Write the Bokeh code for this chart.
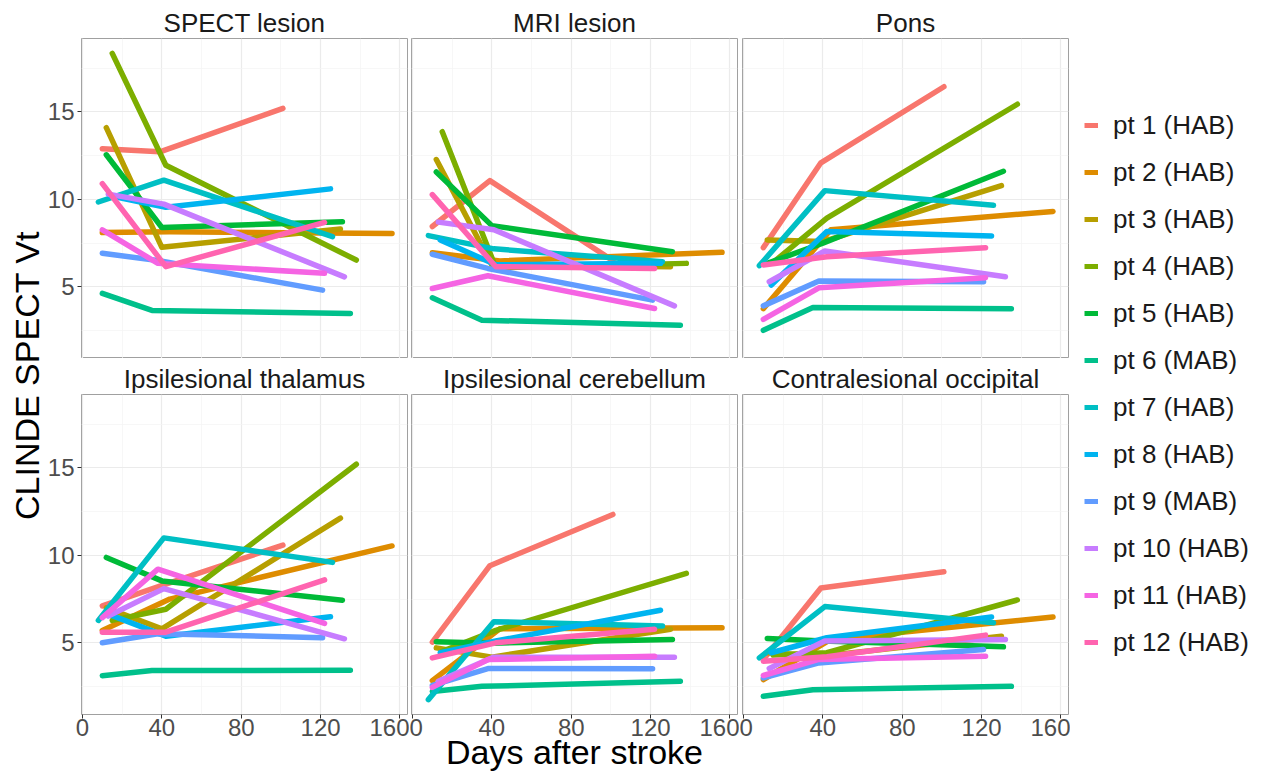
import math
from bokeh.plotting import figure
from bokeh.layouts import row, column
from bokeh.models import Range1d, FixedTicker, Label, Legend, LegendItem, ColumnDataSource
from bokeh.embed import file_html
from bokeh.resources import INLINE

# ---------------- data ----------------
patients = ["pt 1 (HAB)", "pt 2 (HAB)", "pt 3 (HAB)", "pt 4 (HAB)", "pt 5 (HAB)", "pt 6 (MAB)",
            "pt 7 (HAB)", "pt 8 (HAB)", "pt 9 (MAB)", "pt 10 (HAB)", "pt 11 (HAB)", "pt 12 (HAB)"]
colors = ["#F8766D", "#DE8C00", "#B79F00", "#7CAE00", "#00BA38", "#00C08B",
          "#00BFC4", "#00B4F0", "#619CFF", "#C77CFF", "#F564E3", "#FF64B0"]

# days after stroke of the three scans, per patient
days = [[10, 39, 101], [10, 44, 156], [12, 40, 130], [15, 42, 138], [12, 40, 131], [10, 35, 135],
        [8, 41, 126], [14, 42, 125], [10, 38, 121], [13, 41, 132], [10, 38, 122], [10, 42, 122]]

spect_lesion = [[12.9, 12.72, 15.2], [8.1, 8.15, 8.05], [14.1, 7.26, 8.31], [18.35, 11.95, 6.53],
                [12.55, 8.39, 8.72], [4.62, 3.65, 3.47], [9.85, 11.1, 7.87], [10.2, 9.55, 10.6],
                [6.92, 6.5, 4.81], [10.3, 9.73, 5.57], [8.26, 6.34, 5.77], [10.9, 6.15, 8.68]]
mri_lesion = [[8.45, 11.07, 6.5], [6.95, 6.48, 6.97], [12.28, 6.25, 6.15], [13.87, 6.09, 6.34],
              [11.57, 8.5, 7.01], [4.37, 3.09, 2.8], [7.93, 7.17, 6.44], [7.68, 6.26, 6.34],
              [6.86, 6.05, 4.24], [8.7, 8.26, 3.91], [4.9, 5.63, 3.76], [10.27, 6.15, 6.05]]
pons = [[7.24, 12.09, 16.44], [3.75, 8.26, 9.31], [7.68, 7.59, 10.79], [6.4, 8.93, 15.44],
        [6.34, 7.5, 11.61], [2.51, 3.81, 3.75], [6.21, 10.5, 9.66], [5.1, 8.16, 7.91],
        [3.91, 5.33, 5.29], [5.29, 7.05, 5.57], [3.14, 4.94, 5.52], [6.25, 6.72, 7.24]]
thalamus = [[7.11, 8.24, 10.59], [5.71, 7.5, 10.54], [7.0, 5.8, 12.13], [6.28, 6.92, 15.21],
            [9.88, 8.54, 7.43], [3.12, 3.41, 3.43], [6.28, 11.0, 9.6], [6.6, 5.38, 6.49],
            [5.0, 5.52, 5.29], [6.53, 8.1, 5.23], [6.44, 9.21, 6.11], [5.61, 5.61, 8.6]]
cerebellum = [[5.04, 9.41, 12.34], [2.84, 5.8, 5.86], [4.71, 4.18, 5.77], [4.52, 5.71, 8.97],
              [5.06, 4.98, 5.19], [2.22, 2.51, 2.8], [1.75, 6.21, 5.96], [4.43, 5.1, 6.86],
              [2.57, 3.53, 3.52], [2.8, 4.18, 4.18], [2.45, 4.04, 4.23], [4.14, 5.0, 5.77]]
occipital = [[4.05, 8.13, 9.06], [2.9, 5.19, 6.48], [4.43, 4.24, 5.38], [4.3, 4.43, 7.45],
             [5.25, 5.1, 4.77], [1.94, 2.32, 2.51], [4.14, 7.07, 6.15], [4.43, 5.29, 6.48],
             [2.99, 3.85, 4.62], [3.53, 5.1, 5.19], [3.13, 4.05, 4.23], [3.95, 4.2, 5.44]]

regions = ["SPECT lesion", "MRI lesion", "Pons",
           "Ipsilesional thalamus", "Ipsilesional cerebellum", "Contralesional occipital"]
region_values = [spect_lesion, mri_lesion, pons, thalamus, cerebellum, occipital]

x_major = [0, 40, 80, 120, 160]
x_minor = [20, 60, 100, 140]
y_major = [5, 10, 15]
y_minor = [2.5, 7.5, 12.5, 17.5]

x_title = "Days after stroke"
y_title = "CLINDE SPECT Vt"

# ---------------- style ----------------
FONT = "Liberation Sans"
XR = (-0.5, 163.8)
YR = (0.9, 19.2)
FW, FH = 326, 320
YLAB_W = 44


def make_panel(idx):
    r, c = divmod(idx, 3)
    left = [81 - YLAB_W, 2, 3][c]
    right = 2
    top = 38 if r == 0 else 36
    bottom = 0 if r == 0 else 64
    p = figure(width=left + FW + right, height=top + FH + bottom,
               x_range=Range1d(*XR), y_range=Range1d(*YR),
               output_backend="svg", toolbar_location=None,
               min_border_left=left, min_border_right=right,
               min_border_top=top, min_border_bottom=bottom,
               title=regions[idx])
    p.title.align = "center"
    p.title.text_font = FONT
    p.title.text_font_size = "26px"
    p.title.text_font_style = "normal"
    p.title.text_color = "#1A1A1A"
    p.title.standoff = 2
    p.title.offset = 0

    xt = FixedTicker(ticks=x_major, minor_ticks=x_minor)
    yt = FixedTicker(ticks=y_major, minor_ticks=y_minor)
    p.xaxis.ticker = xt
    p.yaxis.ticker = yt
    p.xgrid.ticker = xt
    p.ygrid.ticker = yt
    for g in (p.xgrid, p.ygrid):
        g.grid_line_color = "#EBEBEB"
        g.grid_line_width = 1.2
        g.minor_grid_line_color = "#F3F3F3"
        g.minor_grid_line_width = 0.7

    for ax in (p.xaxis, p.yaxis):
        ax.axis_line_color = None
        ax.major_tick_line_color = "#333333"
        ax.major_tick_out = 4
        ax.major_tick_in = 0
        ax.minor_tick_line_color = None
        ax.major_label_text_font = FONT
        ax.major_label_text_font_size = "24px"
        ax.major_label_text_color = "#4D4D4D"
    p.xaxis.major_label_standoff = 0
    p.yaxis.major_label_standoff = 3
    p.xaxis.major_label_overrides = {v: str(v) for v in x_major}
    p.yaxis.major_label_overrides = {v: str(v) for v in y_major}
    if r == 0:
        p.xaxis.visible = False
    if c != 0:
        p.yaxis.visible = False
    if idx == 4:
        # shared x-axis title, centred under the middle column
        p.xaxis.axis_label = x_title
        p.xaxis.axis_label_text_font = FONT
        p.xaxis.axis_label_text_font_size = "34px"
        p.xaxis.axis_label_text_font_style = "normal"
        p.xaxis.axis_label_text_color = "black"
        p.xaxis.axis_label_standoff = -6

    p.outline_line_color = "#A0A0A0"
    p.outline_line_width = 1
    p.background_fill_color = "white"
    p.border_fill_color = "white"

    vals = region_values[idx]
    for i in range(len(patients)):
        src = ColumnDataSource(dict(x=days[i], y=vals[i]))
        p.line("x", "y", source=src, line_color=colors[i], line_width=5.5,
               line_cap="round", line_join="round")
    return p


panels = [make_panel(i) for i in range(6)]

# y-axis title figure
ylab = figure(width=YLAB_W, height=778, x_range=Range1d(0, YLAB_W), y_range=Range1d(0, 778),
              output_backend="svg", toolbar_location=None,
              min_border_left=0, min_border_right=0, min_border_top=0, min_border_bottom=0)
ylab.axis.visible = False
ylab.grid.visible = False
ylab.outline_line_color = None
ylab.add_layout(Label(x=26, y=403, text=y_title, angle=math.pi / 2, text_font=FONT,
                      text_font_size="34px", text_color="black", text_align="center",
                      text_baseline="middle"))

# legend figure
legfig = figure(width=192, height=778, x_range=Range1d(0, 1), y_range=Range1d(0, 1),
                output_backend="svg", toolbar_location=None,
                min_border_left=0, min_border_right=0, min_border_top=0, min_border_bottom=0)
legfig.axis.visible = False
legfig.grid.visible = False
legfig.outline_line_color = None
items = []
nan = float("nan")
for i, name in enumerate(patients):
    rr = legfig.line(x=[nan], y=[nan], line_color=colors[i], line_width=5)
    items.append(LegendItem(label=name, renderers=[rr]))
legend = Legend(items=items, location=(14, 119), orientation="vertical",
                label_text_font=FONT, label_text_font_size="26px", label_text_color="#1A1A1A",
                glyph_width=14, glyph_height=34, label_height=34, spacing=13,
                padding=0, margin=0, border_line_color=None, background_fill_alpha=0,
                label_standoff=15)
legfig.add_layout(legend)

grid = column(row(panels[0], panels[1], panels[2]), row(panels[3], panels[4], panels[5]))
layout = row(ylab, grid, legfig)

open("out.html", "w").write(file_html(layout, INLINE))
